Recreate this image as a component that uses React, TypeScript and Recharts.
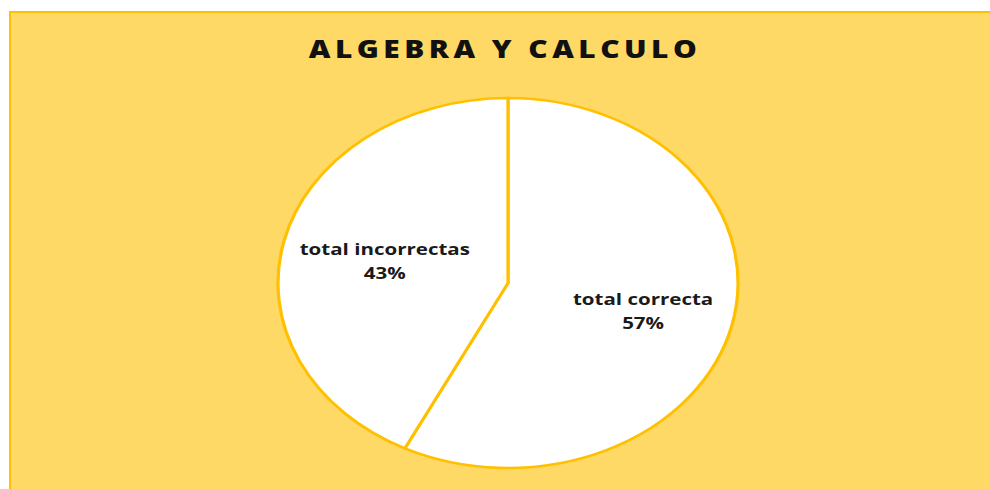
import { Pie, PieChart, Cell } from "recharts";

const categories = ["total correcta", "total incorrectas"];
const values = [57.4, 42.6];
const percentLabels = ["57%", "43%"];

const data = categories.map((name, i) => ({
  name,
  value: values[i],
  pct: percentLabels[i],
}));

// the original picture is stretched sideways, so the whole chart is too
const SX = 230 / 185;
const RADIAN = Math.PI / 180;

function SliceLabel(props: any) {
  const { cx, cy, midAngle, outerRadius, index } = props;
  const r = outerRadius * 0.577;
  const x = cx + r * Math.cos(-midAngle * RADIAN) + 4.8;
  const y = cy + r * Math.sin(-midAngle * RADIAN) + 1;
  const d = data[index];
  return (
    <text
      x={x}
      y={y}
      textAnchor="middle"
      fill="#1a1a1a"
      fontFamily="'Open Sans', sans-serif"
      fontWeight="bold"
      fontSize={16.5}
    >
      <tspan x={x} dy={-4}>
        {d.name}
      </tspan>
      <tspan x={x} dy={24}>
        {d.pct}
      </tspan>
    </text>
  );
}

export default function App() {
  return (
    <div
      style={{
        position: "fixed",
        left: 0,
        top: 0,
        width: 990,
        height: 489,
        background: "#fff",
        overflow: "hidden",
      }}
    >
      <div
        style={{
          position: "absolute",
          left: 9,
          top: 11,
          width: 981,
          height: 478,
          background: "#FFD966",
          borderTop: "2px solid #FFC000",
          borderLeft: "2px solid #FFC000",
          boxSizing: "border-box",
        }}
      />
      <div
        style={{
          position: "absolute",
          left: 0,
          top: 32,
          width: 1010,
          textAlign: "center",
          fontFamily: "'Open Sans', sans-serif",
          fontWeight: 800,
          fontSize: 24,
          letterSpacing: 3.6,
          color: "#111",
          transform: `scaleX(${SX})`,
          transformOrigin: "505px 0px",
        }}
      >
        ALGEBRA Y CALCULO
      </div>
      <div
        style={{
          position: "absolute",
          left: 308,
          top: 83,
          width: 400,
          height: 400,
          transform: `scaleX(${SX})`,
          transformOrigin: "200px 200px",
        }}
      >
        <PieChart
          width={400}
          height={400}
          margin={{ top: 0, right: 0, bottom: 0, left: 0 }}
        >
          <Pie
            data={data}
            dataKey="value"
            nameKey="name"
            cx={200}
            cy={200}
            outerRadius={185}
            startAngle={90}
            endAngle={-270}
            stroke="#FFC000"
            strokeWidth={2.6}
            labelLine={false}
            label={SliceLabel}
            isAnimationActive={false}
          >
            {data.map((d) => (
              <Cell key={d.name} fill="#FFFFFF" />
            ))}
          </Pie>
        </PieChart>
      </div>
    </div>
  );
}
